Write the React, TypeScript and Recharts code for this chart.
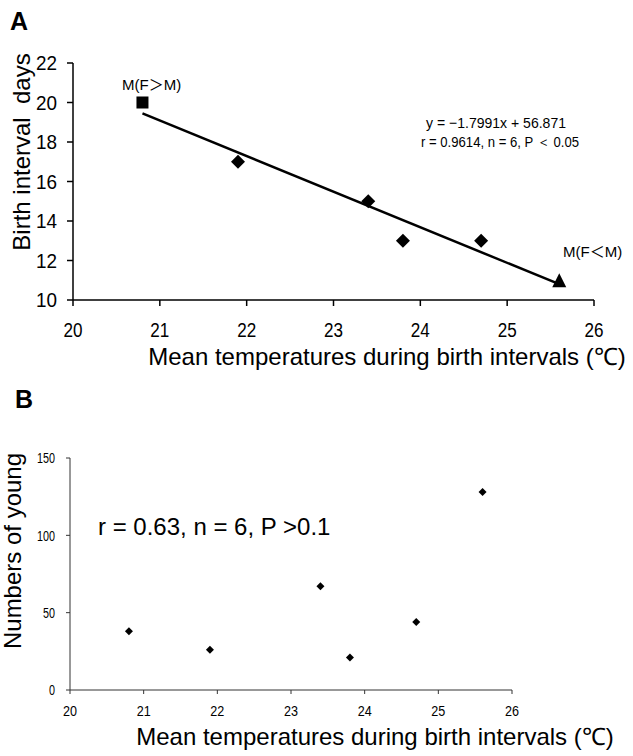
import * as React from "react";
import { ScatterChart, Scatter, XAxis, YAxis } from "recharts";

// Panel A: birth interval vs mean temperature
const temps = [20.8, 21.9, 23.4, 23.8, 24.7, 25.6];
const intervalDays = [20, 17, 15, 13, 13, 10.9];
const markerKinds = ["square", "diamond", "diamond", "diamond", "diamond", "triangle"];
// regression line ends
const fitTemps = [20.8, 25.6];
const fitDays = [19.45, 10.8];

// Panel B: numbers of young vs mean temperature
const youngCounts = [38, 26, 67, 21, 44, 128];

const tempTicks = [20, 21, 22, 23, 24, 25, 26];
const dayTicks = [10, 12, 14, 16, 18, 20, 22];
const youngTicks = [0, 50, 100, 150];

const SANS = "'Liberation Sans', Arial, sans-serif";
const CJK = "'Liberation Sans', 'Noto Sans CJK JP', sans-serif";

const dataA = temps.map((t, i) => ({ x: t, y: intervalDays[i], kind: markerKinds[i] }));
const fitA = fitTemps.map((t, i) => ({ x: t, y: fitDays[i] }));
const dataB = temps.map((t, i) => ({ x: t, y: youngCounts[i] }));

// the original uses a condensed face; squeeze Liberation Sans to fit
function NarrowTick(props: any) {
  const { x, y, payload, textAnchor, fontSize, charW, side } = props;
  const label = String(payload.value);
  return (
    <text
      x={x}
      y={y}
      dy={side === "x" ? "0.71em" : "0.355em"}
      textAnchor={textAnchor}
      fontFamily={SANS}
      fontSize={fontSize}
      fill="#000"
      textLength={label.length * charW}
      lengthAdjust="spacingAndGlyphs"
    >
      {label}
    </text>
  );
}

function MarkerA(props: any) {
  const { cx, cy, payload } = props;
  if (cx == null || cy == null) return <g />;
  if (payload.kind === "square") {
    return <rect x={cx - 6} y={cy - 6} width={12} height={12} fill="#000" />;
  }
  if (payload.kind === "triangle") {
    return <polygon points={`${cx},${cy - 9} ${cx + 7},${cy + 5} ${cx - 7},${cy + 5}`} fill="#000" />;
  }
  return <polygon points={`${cx},${cy - 7} ${cx + 7},${cy} ${cx},${cy + 7} ${cx - 7},${cy}`} fill="#000" />;
}

function SmallDiamond(props: any) {
  const { cx, cy } = props;
  if (cx == null || cy == null) return <g />;
  return <polygon points={`${cx},${cy - 4} ${cx + 4},${cy} ${cx},${cy + 4} ${cx - 4},${cy}`} fill="#000" />;
}

export default function App() {
  return (
    <div style={{ position: "absolute", left: 0, top: 0, width: 633, height: 756, background: "#fff" }}>
      {/* A */}
      <div style={{ position: "absolute", left: 0, top: 0 }}>
        <ScatterChart width={633} height={380} margin={{ top: 63, right: 39, left: 13, bottom: 40 }}>
          <XAxis
            type="number"
            dataKey="x"
            domain={[20, 26]}
            ticks={tempTicks}
            interval={0}
            height={40}
            axisLine={{ stroke: "#000", strokeWidth: 1.5 }}
            tickLine={{ stroke: "#000", strokeWidth: 1.5 }}
            tickSize={6}
            tickMargin={17}
            tick={(p: any) => <NarrowTick {...p} side="x" fontSize={20} charW={9.5} />}
          />
          <YAxis
            type="number"
            dataKey="y"
            domain={[10, 22]}
            ticks={dayTicks}
            interval={0}
            width={60}
            axisLine={{ stroke: "#000", strokeWidth: 1.5 }}
            tickLine={{ stroke: "#000", strokeWidth: 1.5 }}
            tickSize={6}
            tickMargin={10}
            tick={(p: any) => <NarrowTick {...p} side="y" fontSize={21} charW={10.5} />}
          />
          <Scatter
            data={fitA}
            line={{ stroke: "#000", strokeWidth: 2.5 }}
            shape={() => <g />}
            isAnimationActive={false}
          />
          <Scatter data={dataA} shape={MarkerA} isAnimationActive={false} />
          <text x={10} y={30} fontFamily={SANS} fontWeight="bold" fontSize={25} fill="#000">A</text>
          <text
            x={30}
            y={152}
            transform="rotate(-90 30 152)"
            textAnchor="middle"
            fontFamily={SANS}
            fontSize={24}
            fill="#000"
            style={{ whiteSpace: "pre" }}
          >
            {"Birth interval  days"}
          </text>
          <text x={387} y={365} textAnchor="middle" fontFamily={SANS} fontSize={24} fill="#000">
            Mean temperatures during birth intervals (℃)
          </text>
          <text x={122} y={90} fontFamily={CJK} fontSize={15} fill="#000">M(F＞M)</text>
          <text x={563} y={257} fontFamily={CJK} fontSize={15} fill="#000">M(F＜M)</text>
          <text
            x={426}
            y={128}
            fontFamily={SANS}
            fontSize={15}
            fill="#000"
            textLength={140}
            lengthAdjust="spacingAndGlyphs"
          >
            y = −1.7991x + 56.871
          </text>
          <text
            x={421}
            y={147}
            fontFamily={SANS}
            fontSize={15}
            fill="#000"
            textLength={158}
            lengthAdjust="spacingAndGlyphs"
          >
            r = 0.9614, n = 6, P ＜ 0.05
          </text>
        </ScatterChart>
      </div>
      {/* B */}
      <div style={{ position: "absolute", left: 0, top: 380 }}>
        <ScatterChart width={633} height={376} margin={{ top: 78, right: 121, left: 10, bottom: 36 }}>
          <XAxis
            type="number"
            dataKey="x"
            domain={[20, 26]}
            ticks={tempTicks}
            interval={0}
            height={30}
            axisLine={{ stroke: "#333", strokeWidth: 1 }}
            tickLine={{ stroke: "#333", strokeWidth: 1 }}
            tickSize={4}
            tickMargin={11}
            tick={(p: any) => <NarrowTick {...p} side="x" fontSize={15} charW={7} />}
          />
          <YAxis
            type="number"
            dataKey="y"
            domain={[0, 150]}
            ticks={youngTicks}
            interval={0}
            width={60}
            axisLine={{ stroke: "#333", strokeWidth: 1 }}
            tickLine={{ stroke: "#333", strokeWidth: 1 }}
            tickSize={4}
            tickMargin={11}
            tick={(p: any) => <NarrowTick {...p} side="y" fontSize={15} charW={6} />}
          />
          <Scatter data={dataB} shape={SmallDiamond} isAnimationActive={false} />
          <text x={15} y={28} fontFamily={SANS} fontWeight="bold" fontSize={25} fill="#000">B</text>
          <text
            x={21}
            y={171}
            transform="rotate(-90 21 171)"
            textAnchor="middle"
            fontFamily={SANS}
            fontSize={24}
            fill="#000"
          >
            Numbers of young
          </text>
          <text x={375} y={365} textAnchor="middle" fontFamily={SANS} fontSize={24} fill="#000">
            Mean temperatures during birth intervals (℃)
          </text>
          <text x={98} y={155} fontFamily={SANS} fontSize={24} fill="#000">
            r = 0.63, n = 6, P &gt;0.1
          </text>
        </ScatterChart>
      </div>
    </div>
  );
}
